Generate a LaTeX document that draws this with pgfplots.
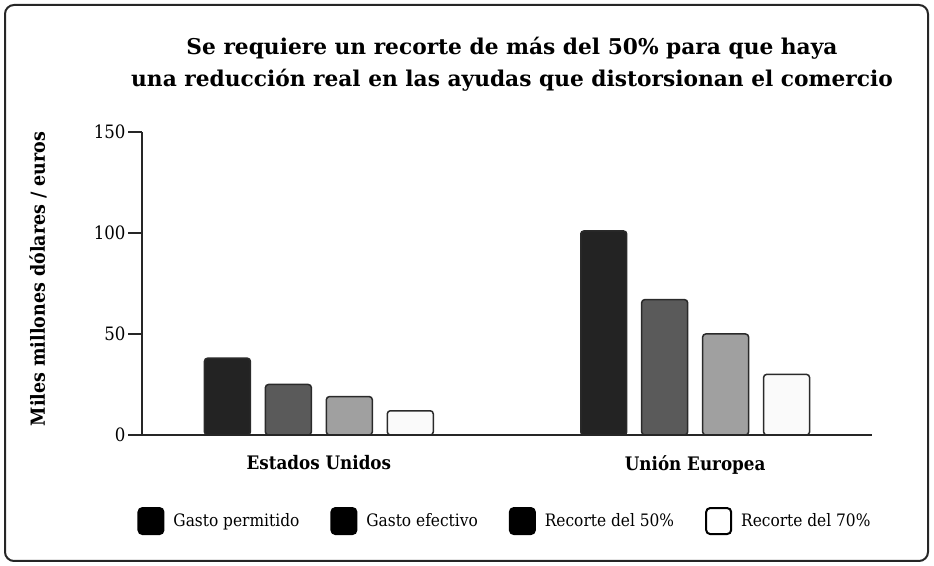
\documentclass[border=0pt]{standalone}
\usepackage{pgfplots}
\pgfplotsset{compat=1.18}
\usepackage{fontspec}
\setmainfont{DejaVu Serif}
\newfontfamily\condfont{DejaVu Serif Condensed}
\definecolor{cA}{HTML}{232323}
\definecolor{cB}{HTML}{5A5A5A}
\definecolor{cC}{HTML}{A0A0A0}
\definecolor{cD}{HTML}{FAFAFA}
\definecolor{edge}{HTML}{2A2A2A}
\begin{document}
\begin{tikzpicture}
\draw[line width=2bp, rounded corners=9bp, draw=black!85] (5bp,5bp) rectangle (928bp,561bp);
\node[font=\fontsize{21.8}{32}\selectfont\bfseries, align=center] at (512bp,502bp)
  {Se requiere un recorte de más del 50\% para que haya\\una reducción real en las ayudas que distorsionan el comercio};
\begin{axis}[
  at={(142bp,131bp)}, anchor=south west,
  scale only axis, width=730bp, height=303bp,
  xmin=-0.47, xmax=1.47, ymin=0, ymax=150,
  axis lines=left, axis line style={-, line width=1.6bp, draw=black!85},
  axis on top,
  xtick={0,1}, xticklabels={Estados Unidos, Unión Europea},
  ytick={0,50,100,150},
  tick align=outside, major tick length=14bp,
  tick style={line width=1.6bp, draw=black!85},
  x tick style={draw=none},
  xticklabel style={font=\condfont\fontsize{18.7}{22}\selectfont\bfseries, yshift=-3bp},
  yticklabel style={font=\condfont\fontsize{18.5}{22}\selectfont, xshift=1bp},
  /pgf/number format/assume math mode=true,
  ylabel={Miles millones dólares / euros},
  every axis y label/.style={at={(axis description cs:-0.1425,0.515)}, rotate=90, anchor=center,
    font=\condfont\fontsize{19.5}{22}\selectfont\bfseries},
  ybar, bar width=0.122,
  every axis plot/.append style={draw=edge, line width=1.5bp, rounded corners=3bp},
  legend columns=4,
  legend style={draw=none, fill=none, at={(0.502,-0.284)}, anchor=center,
    font=\condfont\fontsize{17.2}{20}\selectfont,
    /tikz/every even column/.append style={column sep=22bp},
    nodes={inner xsep=9bp}},
  legend image code/.code={\draw[#1, rounded corners=4bp, line width=2bp, draw=black] (0bp,-13bp) rectangle (25bp,13bp);},
]
\addplot[fill=cA, bar shift=-0.243, forget plot] coordinates {(0,38) (1,101)};
\addplot[fill=cB, bar shift=-0.081, forget plot] coordinates {(0,25) (1,67)};
\addplot[fill=cC, bar shift=0.081, forget plot] coordinates {(0,19) (1,50)};
\addplot[fill=cD, bar shift=0.243, forget plot] coordinates {(0,12) (1,30)};
\addlegendimage{fill=black}
\addlegendentry{Gasto permitido}
\addlegendimage{fill=black}
\addlegendentry{Gasto efectivo}
\addlegendimage{fill=black}
\addlegendentry{Recorte del 50\%}
\addlegendimage{fill=white}
\addlegendentry{Recorte del 70\%}
\end{axis}
\pgfresetboundingbox
\useasboundingbox (0,0) rectangle (934bp,566bp);
\end{tikzpicture}
\end{document}
